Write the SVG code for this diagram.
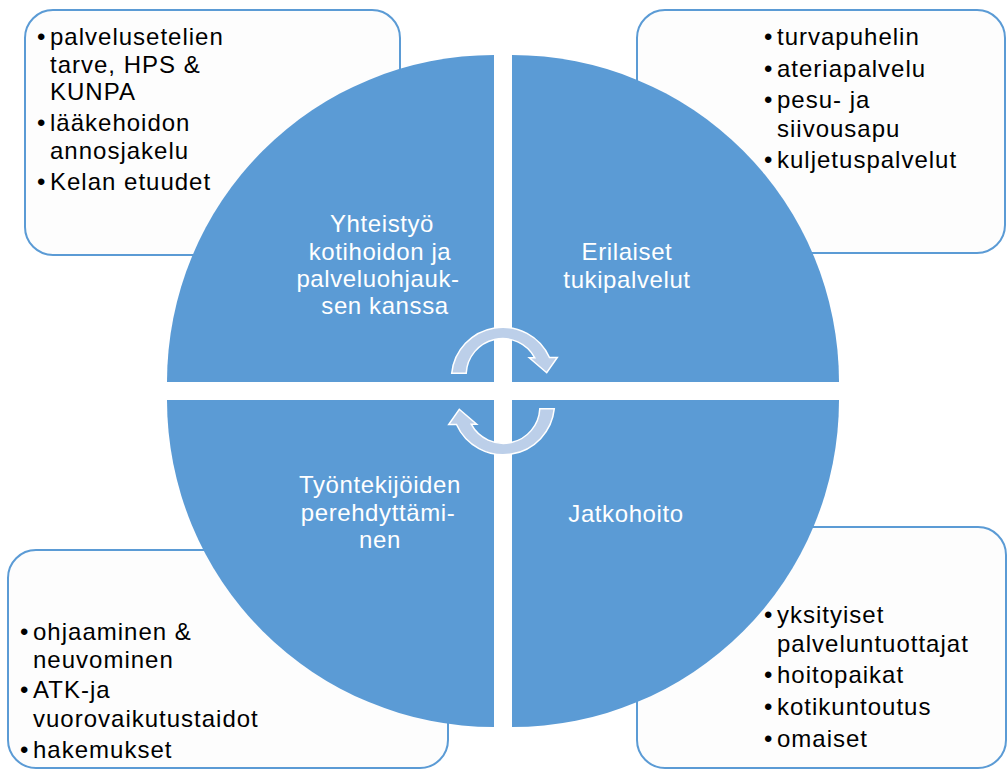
<svg xmlns="http://www.w3.org/2000/svg" width="1007" height="769" viewBox="0 0 1007 769">
  <style>
    .box { fill: #fdfdfd; stroke: #5b9bd5; stroke-width: 2; }
    .quad { fill: #5b9bd5; }
    .item { font-family: "Liberation Sans", Arial, sans-serif; font-size: 24px; fill: #000; letter-spacing: 1px; }
    .label { font-family: "Liberation Sans", Arial, sans-serif; font-size: 24px; fill: #fff; text-anchor: middle; letter-spacing: 0.6px; }
    .cycle { fill: #bccfe9; stroke: #ffffff; stroke-width: 1.5; stroke-linejoin: miter; }
  </style>
  <defs>
    <!-- curved cycle arrow, upper half, pointing clockwise -->
    <path id="cycleArrow" d="M 451.7 373.3 A 51.3 51.3 0 0 1 549.5 357.5 L 557.3 357.5 L 546.7 372.7 L 529.3 357.8 L 534.8 357.8 A 36.5 36.5 0 0 0 466.2 373.3 Z"/>
  </defs>
  <rect width="1007" height="769" fill="#ffffff"/>

  <!-- detail boxes behind the circle -->
  <g id="box-tl">
    <rect class="box" x="25" y="10" width="375" height="245" rx="28" ry="28"/>
    <text class="item"><tspan x="37" y="45">•</tspan><tspan x="50" y="45">palvelusetelien</tspan><tspan x="50" y="72.5">tarve, HPS &amp;</tspan><tspan x="50" y="100">KUNPA</tspan><tspan x="37" y="131">•</tspan><tspan x="50" y="131">lääkehoidon</tspan><tspan x="50" y="158.5">annosjakelu</tspan><tspan x="37" y="190">•</tspan><tspan x="50" y="190">Kelan etuudet</tspan></text>
  </g>
  <g id="box-tr">
    <rect class="box" x="637" y="10" width="368" height="243" rx="28" ry="28"/>
    <text class="item"><tspan x="764" y="45">•</tspan><tspan x="777" y="45">turvapuhelin</tspan><tspan x="764" y="77">•</tspan><tspan x="777" y="77">ateriapalvelu</tspan><tspan x="764" y="108">•</tspan><tspan x="777" y="108">pesu- ja</tspan><tspan x="777" y="136.5">siivousapu</tspan><tspan x="764" y="168">•</tspan><tspan x="777" y="168">kuljetuspalvelut</tspan></text>
  </g>
  <g id="box-bl">
    <rect class="box" x="8" y="550" width="440" height="218" rx="28" ry="28"/>
    <text class="item"><tspan x="20" y="640">•</tspan><tspan x="33" y="640">ohjaaminen &amp;</tspan><tspan x="33" y="668">neuvominen</tspan><tspan x="20" y="698">•</tspan><tspan x="33" y="698">ATK-ja</tspan><tspan x="33" y="727">vuorovaikutustaidot</tspan><tspan x="20" y="758">•</tspan><tspan x="33" y="758">hakemukset</tspan></text>
  </g>
  <g id="box-br">
    <rect class="box" x="637" y="527" width="369" height="241" rx="28" ry="28"/>
    <text class="item"><tspan x="764" y="623">•</tspan><tspan x="777" y="623">yksityiset</tspan><tspan x="777" y="651.5">palveluntuottajat</tspan><tspan x="764" y="683">•</tspan><tspan x="777" y="683">hoitopaikat</tspan><tspan x="764" y="715">•</tspan><tspan x="777" y="715">kotikuntoutus</tspan><tspan x="764" y="746.5">•</tspan><tspan x="777" y="746.5">omaiset</tspan></text>
  </g>

  <!-- circle quadrants -->
  <g id="quad-tl">
    <path class="quad" d="M 494 382 L 167 382 A 327 327 0 0 1 494 55 Z"/>
    <text class="label"><tspan x="382" y="232">Yhteistyö</tspan><tspan x="380" y="259.5">kotihoidon ja</tspan><tspan x="378" y="287">palveluohjauk-</tspan><tspan x="385" y="314">sen kanssa</tspan></text>
  </g>
  <g id="quad-tr">
    <path class="quad" d="M 512 382 L 512 55 A 327 327 0 0 1 839 382 Z"/>
    <text class="label"><tspan x="627" y="260">Erilaiset</tspan><tspan x="627" y="288">tukipalvelut</tspan></text>
  </g>
  <g id="quad-br">
    <path class="quad" d="M 512 400 L 839 400 A 327 327 0 0 1 512 727 Z"/>
    <text class="label"><tspan x="626" y="521.5">Jatkohoito</tspan></text>
  </g>
  <g id="quad-bl">
    <path class="quad" d="M 494 400 L 494 727 A 327 327 0 0 1 167 400 Z"/>
    <text class="label"><tspan x="380" y="493">Työntekijöiden</tspan><tspan x="378" y="520.5">perehdyttämi-</tspan><tspan x="380" y="548">nen</tspan></text>
  </g>

  <!-- cycle arrows in the middle -->
  <g id="connectors">
    <use href="#cycleArrow" class="cycle"/>
    <use href="#cycleArrow" class="cycle" transform="rotate(180 503 391)"/>
  </g>
</svg>
